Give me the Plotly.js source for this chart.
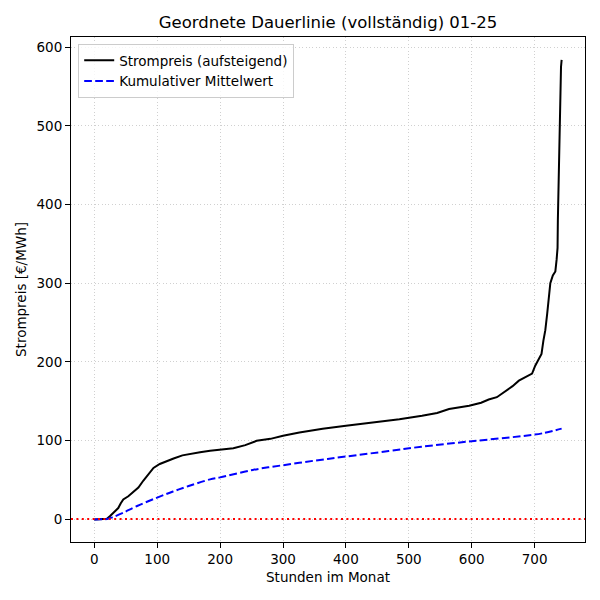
<!DOCTYPE html>
<html>
<head>
<meta charset="utf-8">
<script src="https://cdn.plot.ly/plotly-3.0.1.min.js"></script>
<style>html,body{margin:0;padding:0;background:#fff;}#chart{width:600px;height:600px;}</style>
</head>
<body>
<div id="chart"></div>
<script>
const priceHours = [0, 10, 20, 25, 31, 38, 42, 46, 54, 62, 70, 78, 86, 94, 104, 115, 126, 140, 152, 160, 168, 184, 200, 221, 240, 258, 280, 300, 326, 345, 363, 400, 442, 468, 485, 521, 545, 564, 596, 615, 627, 640, 654, 665, 675, 685, 696, 701, 706, 711, 714, 717, 720, 723, 725, 729, 733, 735, 736.5, 737, 738, 739, 740, 741, 742, 743];
const priceValues = [-0.5, 0, 0.5, 4, 9, 14, 20, 25, 29, 34, 40, 49, 57, 65, 70, 73, 77, 81, 83, 84, 85, 87, 88.5, 90, 94, 99.5, 102, 106, 110, 113, 115, 118.7, 123, 125, 127, 131.5, 135, 140, 144, 148, 152, 155, 163, 169, 176, 180, 185, 195, 202, 210, 227, 240, 261, 285, 300, 310, 315, 330, 345, 380, 420, 470, 525, 555, 575, 584];
const meanHours = [0, 10, 20, 30, 46, 68, 99, 125, 150, 184, 200, 252, 300, 352, 400, 468, 520, 600, 680, 712, 743];
const meanValues = [-0.5, -0.3, 0, 2.5, 8, 16.6, 27, 35, 42, 50.5, 53, 62.5, 68.5, 74.5, 79.5, 86.5, 92, 99, 105.5, 109, 115];
const titleText = 'Geordnete Dauerlinie (vollständig) 01-25';
const xLabel = 'Stunden im Monat';
const yLabel = 'Strompreis [€/MWh]';
const seriesNames = ['Strompreis (aufsteigend)', 'Kumulativer Mittelwert'];
const xTicks = [0, 100, 200, 300, 400, 500, 600, 700];
const yTicks = [0, 100, 200, 300, 400, 500, 600];

const font = 'DejaVu Sans, sans-serif';
const traces = [
  {x: priceHours, y: priceValues, type: 'scatter', mode: 'lines', name: seriesNames[0],
   line: {color: '#000000', width: 2}},
  {x: meanHours, y: meanValues, type: 'scatter', mode: 'lines', name: seriesNames[1],
   line: {color: '#0000ff', width: 2, dash: '7.7px,3.3px', shape: 'spline'}}
];
const axisCommon = {
  showline: true, mirror: true, linecolor: '#000', linewidth: 1,
  ticks: 'outside', ticklen: 5, tickwidth: 1, tickcolor: '#000',
  showgrid: true, gridcolor: '#d0d0d0', griddash: '1px,2.4px', gridwidth: 1,
  zeroline: false, tickfont: {family: font, size: 13.5, color: '#000'}
};
const layout = {
  width: 600, height: 600,
  margin: {l: 71, r: 15, t: 37, b: 58},
  paper_bgcolor: '#fff', plot_bgcolor: '#fff',
  font: {family: font, color: '#000'},
  title: {text: titleText, font: {family: font, size: 16.5, color: '#000'}, x: 0.5, xref: 'paper', y: 0.963, yanchor: 'middle'},
  xaxis: Object.assign({}, axisCommon, {range: [-37.15, 780.15], tickvals: xTicks,
    title: {text: xLabel, font: {family: font, size: 13.5}, standoff: 6}}),
  yaxis: Object.assign({}, axisCommon, {range: [-29.2, 613.2], tickvals: yTicks,
    title: {text: yLabel, font: {family: font, size: 13.5}, standoff: 6}}),
  showlegend: true,
  legend: {x: 0.014, y: 0.986, xanchor: 'left', yanchor: 'top', bgcolor: 'rgba(255,255,255,0.8)',
    bordercolor: '#cccccc', borderwidth: 1, font: {family: font, size: 13.5, color: '#000'},
    tracegroupgap: 2, itemwidth: 30},
  shapes: [{type: 'line', xref: 'paper', x0: 0, x1: 1, yref: 'y', y0: 0, y1: 0,
    line: {color: '#ff0000', width: 2, dash: '2px,3.4px'}}]
};
Plotly.newPlot('chart', traces, layout, {staticPlot: true, displayModeBar: false});
</script>
</body>
</html>
